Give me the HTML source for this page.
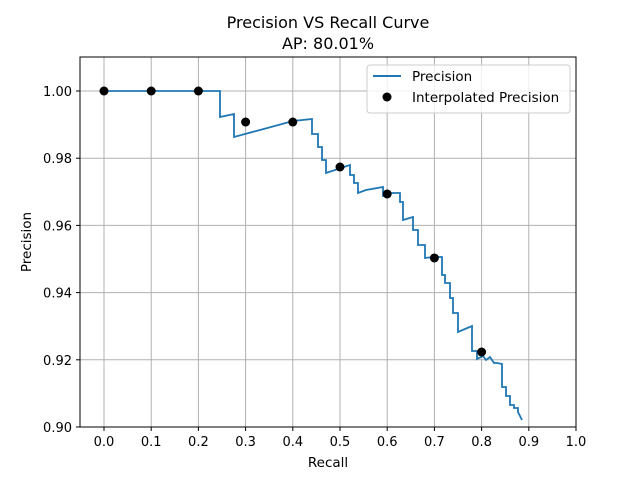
<!DOCTYPE html>
<html><head><meta charset="utf-8"><style>
body{margin:0;background:#fff}
svg text{font-family:"DejaVu Sans","Liberation Sans",sans-serif;fill:#000}
</style></head><body>
<svg id="chart" width="640" height="480" xmlns="http://www.w3.org/2000/svg">
<rect width="640" height="480" fill="#fff"/>
<text x="328" y="28" font-size="16" text-anchor="middle">Precision VS Recall Curve</text>
<text x="328" y="49" font-size="16" text-anchor="middle">AP: 80.01%</text>
<g id="grid"></g>
<g id="ticks"></g>
<g id="marks"></g>
<rect x="80" y="57" width="496" height="370" fill="none" stroke="#000" stroke-width="1"/>
<text x="328" y="467" font-size="13.5" text-anchor="middle">Recall</text>
<text x="0" y="0" font-size="13.5" text-anchor="middle" transform="translate(31,242) rotate(-90)">Precision</text>
<g>
<rect x="367" y="65" width="203" height="48" rx="3" fill="#fff" fill-opacity="0.8" stroke="#ccc"/>
<line x1="373" y1="76" x2="401" y2="76" stroke="#1f77b4" stroke-width="2"/>
<text x="412" y="81" font-size="13.5">Precision</text>
<circle cx="387" cy="97" r="4.5" fill="#000"/>
<text x="412" y="102" font-size="13.5">Interpolated Precision</text>
</g>
</svg>
<script>
const recall=[0,0.2458,0.2458,0.2754,0.2754,0.3305,0.4004,0.4407,0.4407,0.4534,0.4534,0.4619,0.4619,0.4703,0.4703,0.5212,0.5212,0.5297,0.5297,0.5381,0.5381,0.5551,0.5911,0.5911,0.6059,0.6059,0.6271,0.6271,0.6335,0.6335,0.6547,0.6547,0.6653,0.6653,0.6801,0.6801,0.6970,0.7161,0.7161,0.7225,0.7225,0.7331,0.7331,0.7394,0.7394,0.7500,0.7500,0.7797,0.7797,0.7903,0.7903,0.8030,0.8093,0.8178,0.8263,0.8326,0.8432,0.8432,0.8517,0.8517,0.8602,0.8602,0.8686,0.8686,0.8771,0.8771,0.8856];
const precision=[1,1,0.99226,0.99315,0.98631,0.98839,0.99107,0.99167,0.98720,0.98720,0.98333,0.98333,0.97946,0.97946,0.97560,0.97798,0.97500,0.97500,0.97262,0.97262,0.96964,0.97054,0.97143,0.96875,0.96875,0.96964,0.96964,0.96696,0.96696,0.96161,0.96250,0.95863,0.95863,0.95417,0.95417,0.95030,0.95060,0.95060,0.94524,0.94524,0.94286,0.94286,0.93839,0.93839,0.93393,0.93393,0.92827,0.93006,0.92262,0.92262,0.92024,0.92113,0.91994,0.92083,0.91905,0.91905,0.91875,0.91190,0.91190,0.90923,0.90923,0.90655,0.90655,0.90565,0.90565,0.90446,0.90208];
const interpRecall=[0,0.1,0.2,0.3,0.4,0.5,0.6,0.7,0.8];
const interpPrecision=[1,1,1,0.99077,0.99077,0.97738,0.96935,0.9503,0.92232];
const xTicks=[0,0.1,0.2,0.3,0.4,0.5,0.6,0.7,0.8,0.9,1.0];
const yTicks=[0.90,0.92,0.94,0.96,0.98,1.00];
const NS="http://www.w3.org/2000/svg";
const X=v=>104+(v-0)*472;
const Y=v=>91+(1.0-v)*3360;
function mk(t,a,parent){const e=document.createElementNS(NS,t);for(const k in a)e.setAttribute(k,a[k]);document.getElementById(parent).appendChild(e);return e;}
xTicks.forEach(v=>{
 const g=mk('line',{x1:X(v),x2:X(v),y1:57,y2:427,stroke:'#b0b0b0','stroke-width':1},'grid');
 
 
 const t=mk('line',{x1:X(v),x2:X(v),y1:427,y2:431,stroke:'#000'},'ticks');
 
 
 const l=mk('text',{x:X(v),y:446,'font-size':13,'text-anchor':'middle'},'ticks');
 l.textContent=v.toFixed(1);
 
 
});
yTicks.forEach(v=>{
 const g=mk('line',{x1:80,x2:576,y1:Y(v),y2:Y(v),stroke:'#b0b0b0','stroke-width':1},'grid');
 
 
 const t=mk('line',{x1:76,x2:80,y1:Y(v),y2:Y(v),stroke:'#000'},'ticks');
 
 
 const l=mk('text',{x:72,y:Y(v)+5,'font-size':13,'text-anchor':'end'},'ticks');
 l.textContent=v.toFixed(2);
 
 
});
const pts=recall.map((r,i)=>X(r).toFixed(1)+','+Y(precision[i]).toFixed(1)).join(' ');
const line=mk('polyline',{points:pts,fill:'none',stroke:'#1f77b4','stroke-width':1.8,'stroke-linejoin':'miter'},'marks');


interpRecall.forEach((r,i)=>{
 const c=mk('circle',{cx:X(r),cy:Y(interpPrecision[i]),r:4.5,fill:'#000'},'marks');
 
 
});
</script>
</body></html>
